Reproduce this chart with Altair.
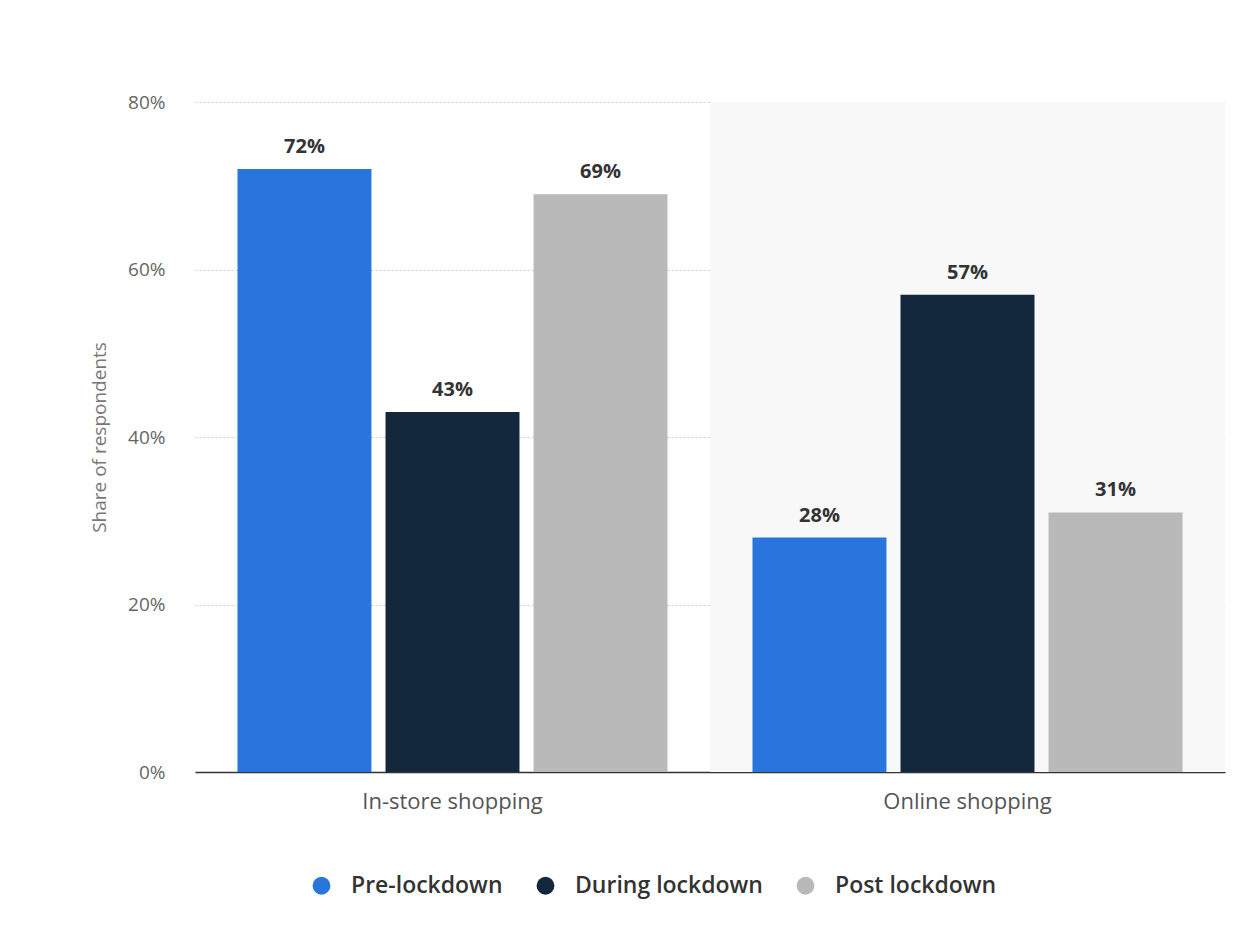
import altair as alt
import pandas as pd

# Shopping channel shares before, during and after lockdown
categories = ["In-store shopping", "Online shopping"]
series = ["Pre-lockdown", "During lockdown", "Post lockdown"]
pre_lockdown = [72, 28]
during_lockdown = [43, 57]
post_lockdown = [69, 31]
colors = ["#2876dd", "#13273d", "#b9b9b9"]
y_ticks = [0, 20, 40, 60, 80]

rows = []
for i, cat in enumerate(categories):
    for name, vals in zip(series, [pre_lockdown, during_lockdown, post_lockdown]):
        rows.append({"category": cat, "series": name, "value": vals[i],
                     "label": f"{vals[i]}%"})
df = pd.DataFrame(rows)

# shaded band behind the highlighted category
highlight = pd.DataFrame({"category": ["Online shopping"], "value": [80]})

FONT = "Open Sans"

x_enc = alt.X(
    "category:N", sort=categories, title=None,
    scale=alt.Scale(paddingInner=0, paddingOuter=0),
    axis=alt.Axis(labelAngle=0, labelFontSize=22, labelColor="#555",
                  labelFont=FONT, labelPadding=19, labelLimit=400,
                  ticks=False, domainColor="#333", domainWidth=1.5),
)
y_enc = alt.Y(
    "value:Q", title="Share of respondents",
    scale=alt.Scale(domain=[0, 80], nice=False),
    axis=alt.Axis(values=y_ticks, labelExpr="datum.value + '%'",
                  labelFontSize=19, labelColor="#666", labelFont=FONT,
                  labelPadding=30, ticks=False, domain=False,
                  grid=True, gridDash=[2, 2], gridColor="#cfcfcf",
                  titleFontSize=19, titleColor="#777", titleFont=FONT,
                  titleFontWeight="normal", titlePadding=18),
)
off_enc = alt.XOffset(
    "series:N", sort=series,
    scale=alt.Scale(paddingInner=0.095, paddingOuter=0.287),
)

band = alt.Chart(highlight).mark_bar(color="#f8f8f8").encode(
    x=x_enc,
    y=alt.Y("value:Q", scale=alt.Scale(domain=[0, 80], nice=False)),
)

bars = alt.Chart(df).mark_bar().encode(
    x=x_enc,
    xOffset=off_enc,
    y=y_enc,
    color=alt.Color(
        "series:N", sort=series,
        scale=alt.Scale(domain=series, range=colors),
        legend=alt.Legend(
            title=None, orient="none", direction="horizontal",
            legendX=115, legendY=772, symbolType="circle", symbolSize=320,
            symbolStrokeWidth=0, labelFontSize=23, labelColor="#333",
            labelFont=FONT, labelFontWeight=600, labelOffset=18,
            labelLimit=400, columnPadding=31, padding=0,
        ),
    ),
)

labels = alt.Chart(df).mark_text(
    baseline="bottom", dy=-12, fontSize=20, fontWeight="bold",
    color="#333", font=FONT,
).encode(
    x=x_enc,
    xOffset=off_enc,
    y=alt.Y("value:Q"),
    text="label:N",
)

chart = alt.layer(band, bars, labels).properties(
    width=1030, height=670,
    autosize=alt.AutoSizeParams(type="none"),
    padding={"left": 195, "top": 102, "right": 33, "bottom": 179},
    background="white",
).configure_view(stroke=None)

chart.save("out.html", embed_options={"renderer": "svg", "actions": False})
